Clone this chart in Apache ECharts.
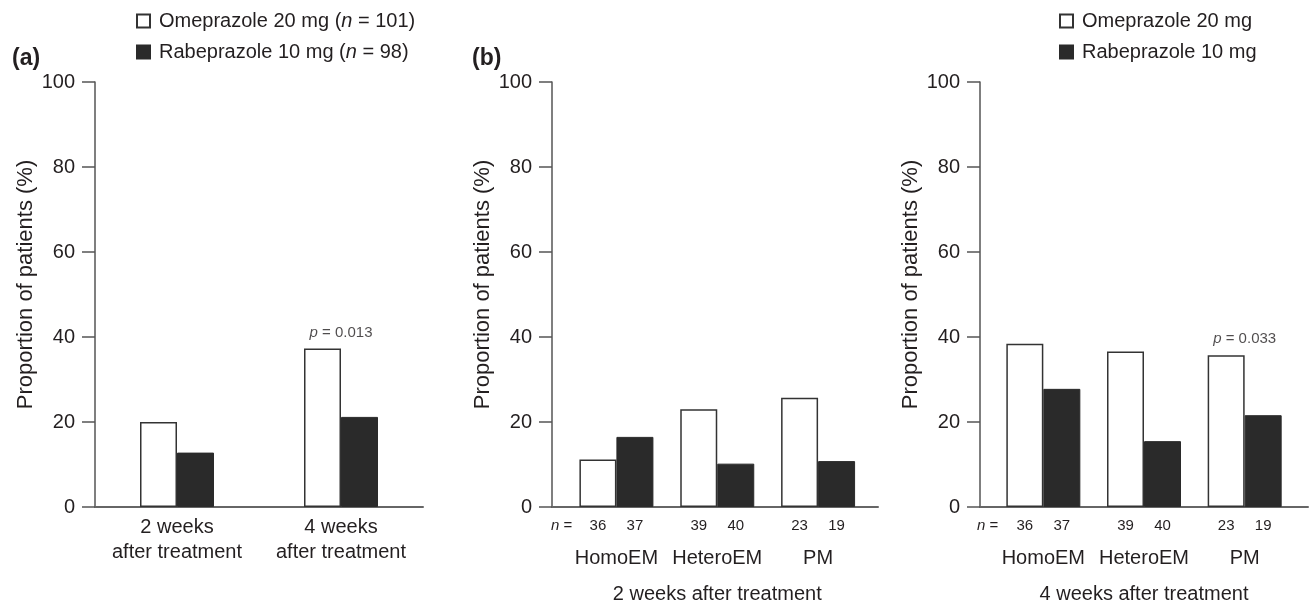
<!DOCTYPE html>
<html>
<head>
<meta charset="utf-8">
<script src="https://cdn.jsdelivr.net/npm/echarts@6/dist/echarts.min.js"></script>
<style>
html,body{margin:0;padding:0;background:#fff;}
#chart{width:1310px;height:604px;}
</style>
</head>
<body>
<div id="chart"></div>
<script>
// ---- data ----
const seriesNames = ['Omeprazole 20 mg', 'Rabeprazole 10 mg'];
const legendN = [101, 98];
const categoriesA = ['2 weeks\nafter treatment', '4 weeks\nafter treatment'];
const omeA = [20.0, 37.3];
const rabA = [12.8, 21.2];
const pA = ['', '0.013'];
const genotypes = ['HomoEM', 'HeteroEM', 'PM'];
const ome2w = [11.2, 23.0, 25.7];
const rab2w = [16.5, 10.2, 10.8];
const ome4w = [38.4, 36.6, 35.7];
const rab4w = [27.8, 15.5, 21.6];
const nOme = [36, 39, 23];
const nRab = [37, 40, 19];
const p2w = ['', '', ''];
const p4w = ['', '', '0.033'];
const yMin = 0, yMax = 100, yStep = 20;
const yTitle = 'Proportion of patients (%)';
const xTitle2w = '2 weeks after treatment';
const xTitle4w = '4 weeks after treatment';

// ---- style ----
const FONT = 'Liberation Sans, Arial, Helvetica, sans-serif';
const TXT = '#231f20';
const AX = '#555';
const BLACK = '#2a2a2a';
const TOP = 82, H = 425;

function yAxisVisible(gi) {
  return {
    gridIndex: gi, type: 'value', min: yMin, max: yMax, interval: yStep,
    axisLine: {show: true, lineStyle: {color: AX, width: 1.5}},
    axisTick: {show: true, length: 13, lineStyle: {color: AX, width: 1.5}},
    axisLabel: {margin: 20, fontSize: 20, color: TXT, fontFamily: FONT},
    splitLine: {show: false},
    name: yTitle, nameLocation: 'middle', nameGap: 58,
    nameTextStyle: {fontSize: 22, color: TXT, fontFamily: FONT, padding: [0, 0, 0, 20]}
  };
}
function yAxisHidden(gi) {
  return {gridIndex: gi, type: 'value', min: yMin, max: yMax, interval: yStep, show: false, splitLine: {show: false}};
}
function frameX(gi) {
  return {
    gridIndex: gi, type: 'value', min: 0, max: 1,
    axisLine: {show: true, lineStyle: {color: '#666', width: 2}},
    axisTick: {show: false}, axisLabel: {show: false}, splitLine: {show: false}
  };
}
function barsX(gi, title) {
  return {
    gridIndex: gi, type: 'category', data: genotypes,
    axisLine: {show: false}, axisTick: {show: false},
    axisLabel: {interval: 0, margin: 41, fontSize: 20, lineHeight: 20, color: TXT, fontFamily: FONT},
    name: title, nameLocation: 'middle', nameGap: 77,
    nameTextStyle: {fontSize: 20, color: TXT, fontFamily: FONT}
  };
}
const whiteStyle = {color: '#fff', borderColor: '#333', borderWidth: 1.5};
const blackStyle = {color: BLACK, borderColor: BLACK, borderWidth: 1};

function barSeries(name, data, xi, style, nArr) {
  const s = {
    name: name, type: 'bar', xAxisIndex: xi, yAxisIndex: xi,
    data: data, barWidth: 37, barGap: '0%', itemStyle: style,
    emphasis: {disabled: true}, animation: false
  };
  if (nArr) {
    s.label = {
      show: true, position: 'bottom', distance: 11, fontSize: 15, color: TXT, fontFamily: FONT,
      formatter: p => String(nArr[p.dataIndex])
    };
  }
  return s;
}
function pSeries(pArr, vals, xi) {
  const d = [];
  pArr.forEach((p, i) => { if (p) d.push([i, vals[i], p]); });
  return {
    type: 'scatter', xAxisIndex: xi, yAxisIndex: xi, data: d,
    symbol: 'rect', symbolSize: 1, itemStyle: {color: 'rgba(0,0,0,0)'},
    silent: true, animation: false,
    label: {
      show: true, position: 'top', distance: 8,
      formatter: p => '{i|p} = ' + p.value[2],
      fontSize: 15, color: TXT, fontFamily: FONT,
      rich: {i: {fontStyle: 'italic', fontSize: 15, color: TXT, fontFamily: FONT}}
    }
  };
}

const legendText = {fontSize: 20, lineHeight: 20, color: TXT, fontFamily: FONT, padding: [0, 0, 0, 4],
  rich: {i: {fontStyle: 'italic', fontSize: 20, lineHeight: 20, color: TXT, fontFamily: FONT}}};

const gridBase = {top: TOP, height: H, outerBoundsMode: 'none', containLabel: false};

const chart = echarts.init(document.getElementById('chart'), null, {renderer: 'canvas'});
chart.setOption({
  backgroundColor: '#fff',
  animation: false,
  title: [
    {text: '(a)', left: 7, top: 42, textStyle: {fontSize: 23, fontWeight: 'bold', color: TXT, fontFamily: FONT}},
    {text: '(b)', left: 467, top: 42, textStyle: {fontSize: 23, fontWeight: 'bold', color: TXT, fontFamily: FONT}}
  ],
  legend: [
    {
      data: seriesNames, orient: 'vertical', left: 131, top: 6, itemWidth: 13, itemHeight: 13, itemGap: 11,
      icon: 'rect', selectedMode: false,
      formatter: name => name + ' ({i|n} = ' + legendN[seriesNames.indexOf(name)] + ')',
      textStyle: legendText
    },
    {
      data: seriesNames, orient: 'vertical', left: 1054, top: 6, itemWidth: 13, itemHeight: 13, itemGap: 11,
      icon: 'rect', selectedMode: false,
      textStyle: legendText
    }
  ],
  grid: [
    Object.assign({left: 95, width: 328}, gridBase),
    Object.assign({left: 552, width: 326}, gridBase),
    Object.assign({left: 566, width: 302.5}, gridBase),
    Object.assign({left: 980, width: 328}, gridBase),
    Object.assign({left: 993, width: 302}, gridBase)
  ],
  xAxis: [
    {
      gridIndex: 0, type: 'category', data: categoriesA,
      axisLine: {show: true, lineStyle: {color: '#666', width: 2}},
      axisTick: {show: false},
      axisLabel: {interval: 0, margin: 8, fontSize: 20, lineHeight: 25, color: TXT, fontFamily: FONT}
    },
    frameX(1),
    barsX(2, xTitle2w),
    frameX(3),
    barsX(4, xTitle4w)
  ],
  yAxis: [yAxisVisible(0), yAxisVisible(1), yAxisHidden(2), yAxisVisible(3), yAxisHidden(4)],
  graphic: [
    {type: 'text', left: 551, top: 518, style: {text: '{i|n} =', font: '15px ' + FONT, fill: TXT,
      rich: {i: {fontStyle: 'italic', fontSize: 15, fontFamily: FONT, fill: TXT}}}},
    {type: 'text', left: 977, top: 518, style: {text: '{i|n} =', font: '15px ' + FONT, fill: TXT,
      rich: {i: {fontStyle: 'italic', fontSize: 15, fontFamily: FONT, fill: TXT}}}}
  ],
  series: [
    barSeries(seriesNames[0], omeA, 0, whiteStyle, null),
    barSeries(seriesNames[1], rabA, 0, blackStyle, null),
    barSeries(seriesNames[0], ome2w, 2, whiteStyle, nOme),
    barSeries(seriesNames[1], rab2w, 2, blackStyle, nRab),
    barSeries(seriesNames[0], ome4w, 4, whiteStyle, nOme),
    barSeries(seriesNames[1], rab4w, 4, blackStyle, nRab),
    pSeries(pA, omeA, 0),
    pSeries(p2w, ome2w, 2),
    pSeries(p4w, ome4w, 4)
  ]
});
</script>
</body>
</html>
